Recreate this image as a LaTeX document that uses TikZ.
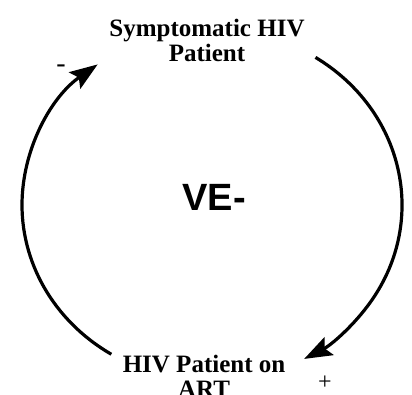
\documentclass[tikz,border=0pt]{standalone}
\usepackage{fontspec}
\setmainfont{Liberation Serif}
\newfontfamily\veefont{Liberation Sans}
\usetikzlibrary{arrows.meta}
\begin{document}
\begin{tikzpicture}[x=1pt, y=1pt, line width=3.2pt, >={Stealth[length=28pt, width=20pt, inset=5pt]},
  varbox/.style={align=center, inner sep=0pt, font=\fontsize{25}{25}\selectfont\bfseries}]
  \useasboundingbox (0,0) rectangle (412,395);
  \coordinate (hub) at (212,190);
  \node[varbox] (sympt) at (207,355) {Symptomatic HIV\\Patient};
  \node[varbox] (onart) at (204,19) {HIV Patient on\\ART};
  \node[font=\fontsize{28}{28}\selectfont\veefont\bfseries] (loop) at (214,198) {\fontsize{38}{38}\selectfont VE-};
  \node[font=\fontsize{28}{28}\selectfont] (neg) at (61,326) {-};
  \node[font=\fontsize{24}{24}\selectfont] (pos) at (325,12) {+};
  % arcs of the loop
  \coordinate (symptout) at ([shift={(57:190 and 176)}]hub);
  \coordinate (artout) at ([shift={(238:190 and 176)}]hub);
  \draw[->] (symptout) arc[start angle=57, end angle=-61, x radius=190, y radius=176];
  \draw[->] (artout) arc[start angle=238, end angle=127, x radius=190, y radius=176];
\end{tikzpicture}
\end{document}
